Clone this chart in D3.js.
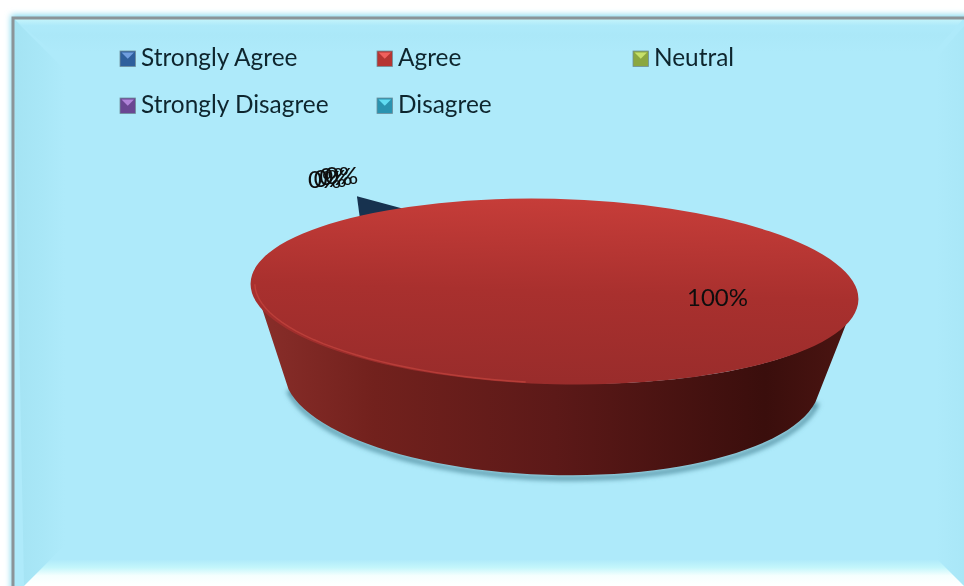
<!DOCTYPE html>
<html><head><meta charset="utf-8">
<script src="https://cdnjs.cloudflare.com/ajax/libs/d3/7.8.5/d3.min.js"></script>
<style>html,body{margin:0;padding:0;background:#fff;overflow:hidden}svg{display:block}text{font-family:Lato,"Noto Sans",sans-serif}</style>
</head><body><svg id="c" width="964" height="586"></svg>
<script>
const categories = ["Strongly Agree","Agree","Neutral","Strongly Disagree","Disagree"];
const percentages = [0,100,0,0,0];
const swatchColors = ["#2f5f9c","#b53432","#8ba73f","#6b4692","#2a93b0"];
const swatchLight = ["#6f9ede","#f0605c","#c6e06a","#b083d8","#62dcf2"];

const svg = d3.select("#c"), defs = svg.append("defs");
function grad(id, x2, y2, stops){
  const g = defs.append("linearGradient").attr("id",id).attr("x1",0).attr("y1",0).attr("x2",x2).attr("y2",y2);
  stops.forEach(s=>g.append("stop").attr("offset",s[0]).attr("stop-color",s[1]));
}
grad("bTop",0,1,[[0,"#c8f6fb"],[.22,"#aeeafa"],[.5,"#abe8f8"],[1,"#aeeafa"]]);
grad("bBot",0,1,[[0,"#aeeafa"],[.35,"#aeeafa"],[.55,"#c4f6fb"],[.75,"#f5fffe"],[1,"#ffffff"]]);
grad("bLeft",1,0,[[0,"#a4e3f3"],[.6,"#a9e7f7"],[1,"#aeeafa"]]);
grad("bRight",1,0,[[0,"#aeeafa"],[1,"#a9e7f7"]]);
grad("topFace",0,1,[[0,"#c63d39"],[.5,"#a9302e"],[1,"#992c2b"]]);
grad("sideFace",1,0,[[0,"#8a2e2a"],[.2,"#72211d"],[.5,"#5c1918"],[.85,"#3a0e0c"],[1,"#4c1512"]]);
defs.append("filter").attr("id","sh").attr("x","-10%").attr("y","-10%").attr("width","120%").attr("height","120%")
  .append("feGaussianBlur").attr("stdDeviation",2.5);
defs.append("filter").attr("id","glow").attr("x","-5%").attr("y","-5%").attr("width","110%").attr("height","110%")
  .append("feGaussianBlur").attr("stdDeviation",3);
defs.append("filter").attr("id","soft").append("feGaussianBlur").attr("stdDeviation",0.35);
defs.append("filter").attr("id","soft2").attr("x","-20%").attr("y","-20%").attr("width","140%").attr("height","140%").append("feGaussianBlur").attr("stdDeviation",0.6);

// frame and panel
const W=964,H=586,fx=13,fy=18;
svg.append("rect").attr("x",fx-2).attr("y",fy-3).attr("width",W).attr("height",H).attr("fill","#7ed8ee").attr("filter","url(#glow)");
svg.append("rect").attr("x",fx).attr("y",fy).attr("width",W).attr("height",H).attr("fill","#aeeafa");
const poly=(pts,fill)=>svg.append("polygon").attr("points",pts.map(p=>p.join(",")).join(" ")).attr("fill",fill);
const bevL=52;
poly([[fx,fy],[W,fy],[W-30,fy+34],[fx+40,fy+34]],"url(#bTop)");
poly([[fx,fy],[fx+bevL,fy+bevL],[fx+bevL,H-41],[fx+11,H]],"url(#bLeft)");
poly([[W,fy+8],[W-28,fy+40],[W-28,H-28],[W,H]],"url(#bRight)");
poly([[fx+11,H],[fx+bevL,H-41],[W-41,H-41],[W,H]],"url(#bBot)");
svg.append("path").attr("d",`M${fx},${H}V${fy}H${W}`).attr("fill","none").attr("stroke","#8b9498").attr("stroke-width",3);

// pie geometry
const cx=554.5, cy=291.5, rx=301, ry=92, tilt=1.7;
const lcx=552, lcy=378, lrx=268, lry=97, ltilt=1.6;
const start=-34.4*Math.PI/180;
const pie=d3.pie().sort(null).startAngle(start).endAngle(start+2*Math.PI);
const slices=pie(percentages);
const arc=d3.arc().innerRadius(0).outerRadius(1);
const rot=(x,y,d)=>{const t=d*Math.PI/180;return [x*Math.cos(t)-y*Math.sin(t),x*Math.sin(t)+y*Math.cos(t)];};
const project=(a,r)=>{const p=rot(r*rx*Math.sin(a),-r*ry*Math.cos(a),tilt);return [cx+p[0],cy+p[1]];};
const projectL=a=>{const p=rot(lrx*Math.sin(a),-lry*Math.cos(a),ltilt);return [lcx+p[0],lcy+p[1]];};

// wedge for the first, zero-size slice
const a0=slices[0].startAngle, deg=Math.PI/180;
const wedge=[project(a0,1.178),project(a0+3.4*deg,.996),project(a0-9*deg,.948)];
svg.append("polygon").attr("points",wedge.map(p=>p.join(",")).join(" ")).attr("fill","#17324f");

// side wall + shadow
const upperA=d3.range(90,270.01,3).map(d=>d*deg);
const lowerA=d3.range(100,260.01,3).map(d=>d*deg);
const upper=upperA.map(a=>project(a,1));
const lower=lowerA.map(projectL).reverse();
const wall=d3.line()(upper.concat(lower))+"Z";
const shadowPts=[project(Math.PI/2,.97)].concat(lower,[project(3*Math.PI/2,.97)]);
svg.append("path").attr("d",d3.line()(shadowPts)).attr("transform","translate(1,3)").attr("fill","none").attr("stroke","#4d8a9c").attr("stroke-width",4).attr("filter","url(#sh)");
svg.append("path").attr("d",wall).attr("fill","url(#sideFace)");

// top face
const topFace=svg.append("g").attr("transform",`translate(${cx},${cy}) rotate(${tilt}) scale(${rx},${ry})`);
topFace.selectAll("path").data(slices.filter(d=>d.value>0)).join("path").attr("d",arc).attr("fill","url(#topFace)");
const rimA=d3.range(185,270.01,3).map(d=>d*deg);
svg.append("path").attr("d",d3.line()(rimA.map(a=>project(a,.996)))).attr("fill","none").attr("stroke","#cc4a42").attr("stroke-width",1.4).attr("opacity",.6).attr("filter","url(#soft)");

// data labels
const fmt=d3.format(".0%");
const zeroIdx=percentages.map((v,i)=>v===0?i:-1).filter(i=>i>=0);
const labelX=d3.scalePoint().domain(zeroIdx).range([308,325]);
const g=svg.append("g").attr("filter","url(#soft)").attr("fill","#0e0e0e").attr("font-size",24);
zeroIdx.forEach(i=>{
  g.append("text").attr("x",labelX(i)).attr("y",188-(labelX(i)-308)*.25).text(fmt(percentages[i]/100));
});
g.append("text").attr("x",687).attr("y",306).text(fmt(percentages[1]/100));

// legend
const legX=d3.scaleOrdinal().domain([0,1,2]).range([120,377,633]);
const legY=d3.scaleOrdinal().domain([0,1]).range([51,98]);
categories.forEach((c,i)=>{
  const x=legX(i%3), y=legY(Math.floor(i/3)), s=15.5;
  const sw=svg.append("g").attr("filter","url(#soft2)");
  sw.append("rect").attr("x",x).attr("y",y).attr("width",s).attr("height",s).attr("fill",swatchColors[i]).attr("stroke","#6f8f9c").attr("stroke-width",.8);
  sw.append("polygon").attr("points",[[x+1.5,y+1.5],[x+s-1.5,y+1.5],[x+s/2,y+s*.5]].map(p=>p.join(",")).join(" ")).attr("fill",swatchLight[i]);
  g.append("text").attr("x",x+21).attr("y",y+15).attr("font-size",24.4).attr("fill","#10252e").text(c);
});
</script></body></html>
